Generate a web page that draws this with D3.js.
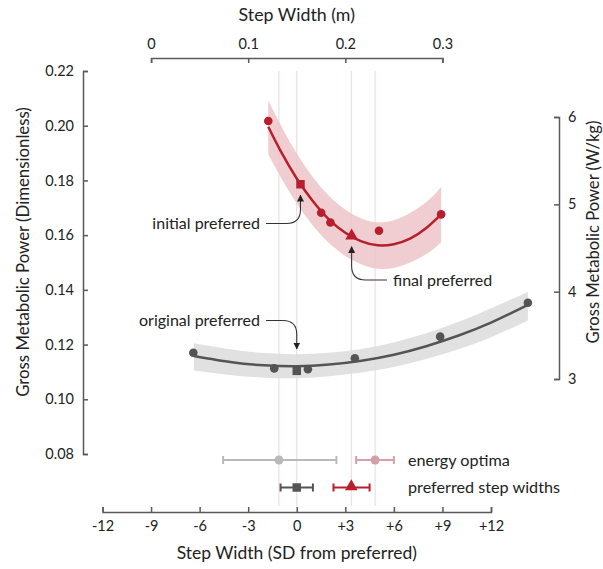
<!DOCTYPE html>
<html>
<head>
<meta charset="utf-8">
<script src="https://cdn.jsdelivr.net/npm/d3@7"></script>
<style>
  html, body { margin: 0; padding: 0; background: #fff; }
  svg { display: block; font-family: Lato, "Open Sans", sans-serif; }
</style>
</head>
<body>
<svg id="chart" width="603" height="569"></svg>
<script>
// ---------------- data ----------------
// x in SD from preferred, y in dimensionless gross metabolic power
const redPointsX = [-1.76, 1.51, 2.08, 5.08, 8.92];
const redPointsY = [0.2017, 0.1682, 0.1646, 0.1616, 0.1676];
const redSquare = [0.23, 0.1786];       // initial preferred
const redTriangle = [3.39, 0.1594];     // final preferred

const redFitX = [-1.76, -1, 0, 1, 2, 3, 4, 5, 6, 7, 8, 8.92];
const redFitY = [0.1996, 0.1908, 0.1807, 0.1724, 0.1657, 0.1609, 0.1577, 0.1563, 0.1567, 0.1587, 0.1626, 0.1676];
const redBandX = [-1.76, 0, 2, 4, 6, 8, 8.92];
const redBandLo = [0.1896, 0.1716, 0.1571, 0.1493, 0.1480, 0.1531, 0.1575];
const redBandHi = [0.2091, 0.1898, 0.1743, 0.1661, 0.1654, 0.1721, 0.1777];

const greyPointsX = [-6.39, -1.39, 0.69, 3.59, 8.86, 14.28];
const greyPointsY = [0.1170, 0.1113, 0.1110, 0.1150, 0.1229, 0.1353];
const greySquare = [0, 0.1104];         // original preferred

const greyFitX = [-6.35, -4, -2, 0, 2, 4, 6, 8, 10, 12, 14.28];
const greyFitY = [0.1158, 0.1135, 0.1124, 0.1121, 0.1127, 0.1141, 0.1163, 0.1194, 0.1233, 0.1280, 0.1345];
const greyBandX = [-6.35, -4, -2, 0, 2, 4, 6, 8, 10, 12, 14.28];
const greyBandLo = [0.1105, 0.1088, 0.1079, 0.1077, 0.1084, 0.1098, 0.1118, 0.1147, 0.1183, 0.1227, 0.1288];
const greyBandHi = [0.1205, 0.1182, 0.1169, 0.1165, 0.1170, 0.1184, 0.1208, 0.1241, 0.1283, 0.1333, 0.1392];

// summary rows: mean, low, high (SD from preferred)
const energyOptima = [[-1.1, -4.55, 2.45], [4.84, 3.67, 6.0]];
const preferredWidths = [[0, -1.0, 1.0], [3.37, 2.27, 4.5]];

const bottomTicks = [-12, -9, -6, -3, 0, 3, 6, 9, 12];
const topTicks = [0, 0.1, 0.2, 0.3];
const leftTicks = [0.08, 0.10, 0.12, 0.14, 0.16, 0.18, 0.20, 0.22];
const rightTicks = [3, 4, 5, 6];

// ---------------- styling ----------------
const RED = "#b71f2e", RED_BAND = "#ecc4c8";
const DARK = "#545454", GREY_BAND = "#dcdcdc";
const LIGHT_GREY = "#b9b9b9", PINK = "#d3a0a7";
const AXIS = "#5a5a5a", TEXT = "#222";
const VLINE = "#ece2e4";

const svg = d3.select("#chart");

const x = d3.scaleLinear().domain([-12, 12]).range([102.5, 491]);
const xm = d3.scaleLinear().domain([0, 0.3]).range([x(-9), x(9)]);
const y = d3.scaleLinear().domain([0.08, 0.22]).range([454, 71]);
const yr = d3.scaleLinear().domain([3, 6]).range([379, 117]);

// vertical reference lines at optima & preferred widths
const vlines = [energyOptima[0][0], 0, preferredWidths[1][0], energyOptima[1][0]];
svg.append("g").selectAll("line").data(vlines).join("line")
  .attr("x1", d => x(d)).attr("x2", d => x(d))
  .attr("y1", y(0.22)).attr("y2", 506)
  .attr("stroke", VLINE).attr("stroke-width", 1.3);

// bands
function band(xs, lo, hi) {
  return d3.area().x((d, i) => x(xs[i])).y0((d, i) => y(lo[i])).y1((d, i) => y(hi[i]))
    .curve(d3.curveNatural)(xs);
}
svg.append("path").attr("d", band(greyBandX, greyBandLo, greyBandHi))
  .attr("fill", GREY_BAND).attr("opacity", 0.85);
svg.append("path").attr("d", band(redBandX, redBandLo, redBandHi))
  .attr("fill", RED_BAND).attr("opacity", 0.85);

// fit lines
function fit(xs, ys) {
  return d3.line().x((d, i) => x(xs[i])).y((d, i) => y(ys[i])).curve(d3.curveNatural)(xs);
}
svg.append("path").attr("d", fit(greyFitX, greyFitY))
  .attr("fill", "none").attr("stroke", DARK).attr("stroke-width", 2.5);
svg.append("path").attr("d", fit(redFitX, redFitY))
  .attr("fill", "none").attr("stroke", RED).attr("stroke-width", 2.5);

// points
svg.append("g").selectAll("circle").data(greyPointsX).join("circle")
  .attr("cx", d => x(d)).attr("cy", (d, i) => y(greyPointsY[i])).attr("r", 4.3)
  .attr("fill", DARK);
svg.append("g").selectAll("circle").data(redPointsX).join("circle")
  .attr("cx", d => x(d)).attr("cy", (d, i) => y(redPointsY[i])).attr("r", 4.3)
  .attr("fill", RED);

const sq = d3.symbol().type(d3.symbolSquare).size(72);
const tri = d3.symbol().type(d3.symbolTriangle).size(70);
svg.append("path").attr("d", sq())
  .attr("transform", `translate(${x(greySquare[0])},${y(greySquare[1])})`).attr("fill", DARK);
svg.append("path").attr("d", sq())
  .attr("transform", `translate(${x(redSquare[0])},${y(redSquare[1])})`).attr("fill", RED);
svg.append("path").attr("d", tri())
  .attr("transform", `translate(${x(redTriangle[0])},${y(redTriangle[1]) - 1})`).attr("fill", RED);

// ---------------- annotations ----------------
svg.append("defs").append("marker")
  .attr("id", "ah").attr("viewBox", "0 0 10 10").attr("refX", 9).attr("refY", 5)
  .attr("markerWidth", 7).attr("markerHeight", 7).attr("orient", "auto-start-reverse")
  .attr("markerUnits", "userSpaceOnUse")
  .append("path").attr("d", "M0,0 L10,5 L0,10 Z").attr("fill", "#222");

function annot(label, anchor, side, tx, ty, tipDy) {
  const px = x(anchor[0]), py = y(anchor[1]);
  const tipY = py + tipDy;
  svg.append("text").attr("x", tx).attr("y", ty).attr("dy", "0.35em")
    .attr("font-size", 16).attr("fill", TEXT)
    .attr("text-anchor", side === "left" ? "end" : "start").text(label);
  const sx = side === "left" ? tx + 6 : tx - 6;
  const dir = tipY < ty ? -1 : 1;
  const d = `M${sx},${ty} L${px + (side === "left" ? -14 : 14)},${ty}` +
    ` Q${px},${ty} ${px},${ty + dir * 14} L${px},${tipY}`;
  svg.append("path").attr("d", d).attr("fill", "none").attr("stroke", "#333")
    .attr("stroke-width", 1.1).attr("marker-end", "url(#ah)");
}
annot("initial preferred", redSquare, "left", 260, 223.5, 11);
annot("final preferred", redTriangle, "right", 393, 280, 10);
annot("original preferred", greySquare, "left", 260, 320.5, -22);

// ---------------- summary error bars ----------------
function errRow(rows, yy, colors, shapes) {
  rows.forEach((r, i) => {
    const g = svg.append("g").attr("stroke", colors[i]).attr("stroke-width", 2);
    g.append("line").attr("x1", x(r[1])).attr("x2", x(r[2])).attr("y1", yy).attr("y2", yy);
    g.append("line").attr("x1", x(r[1])).attr("x2", x(r[1])).attr("y1", yy - 4).attr("y2", yy + 4);
    g.append("line").attr("x1", x(r[2])).attr("x2", x(r[2])).attr("y1", yy - 4).attr("y2", yy + 4);
    const s = shapes[i];
    if (s === "circle") {
      svg.append("circle").attr("cx", x(r[0])).attr("cy", yy).attr("r", 4.5).attr("fill", colors[i]);
    } else if (s === "square") {
      svg.append("path").attr("d", sq()).attr("transform", `translate(${x(r[0])},${yy})`).attr("fill", colors[i]);
    } else {
      svg.append("path").attr("d", tri()).attr("transform", `translate(${x(r[0])},${yy - 1})`).attr("fill", colors[i]);
    }
  });
}
errRow(energyOptima, 460, [LIGHT_GREY, PINK], ["circle", "circle"]);
errRow(preferredWidths, 487.5, [DARK, RED], ["square", "triangle"]);
svg.append("text").attr("x", 408).attr("y", 460).attr("dy", "0.35em")
  .attr("font-size", 16.2).attr("fill", TEXT).text("energy optima");
svg.append("text").attr("x", 408).attr("y", 487.5).attr("dy", "0.35em")
  .attr("font-size", 16.2).attr("fill", TEXT).text("preferred step widths");

// ---------------- axes ----------------
function styleAxis(g) {
  g.selectAll(".domain").attr("stroke", AXIS).attr("stroke-width", 1.5);
  g.selectAll(".tick line").attr("stroke", AXIS).attr("stroke-width", 1.5);
  g.selectAll(".tick text").attr("fill", TEXT).attr("font-size", 14.5)
    .attr("font-family", "Lato, 'Open Sans', sans-serif");
}
const fmtSD = d => d > 0 ? "+" + d : String(d);

const gb = svg.append("g").attr("transform", "translate(0,512)")
  .call(d3.axisBottom(x).tickValues(bottomTicks).tickFormat(fmtSD).tickSizeInner(-5).tickSizeOuter(-5).tickPadding(9));
styleAxis(gb);

const gt = svg.append("g").attr("transform", "translate(0,58)")
  .call(d3.axisTop(xm).tickValues(topTicks).tickFormat(d3.format("~g")).tickSizeInner(-5).tickSizeOuter(-5).tickPadding(9));
styleAxis(gt);

const gl = svg.append("g").attr("transform", "translate(83,0)")
  .call(d3.axisLeft(y).tickValues(leftTicks).tickFormat(d3.format(".2f")).tickSizeInner(-5).tickSizeOuter(-5).tickPadding(9));
styleAxis(gl);

const gr = svg.append("g").attr("transform", "translate(559,0)")
  .call(d3.axisRight(yr).tickValues(rightTicks).tickFormat(d3.format("d")).tickSizeInner(-5).tickSizeOuter(-5).tickPadding(9));
styleAxis(gr);

// axis titles
svg.append("text").attr("x", x(0)).attr("y", 21).attr("text-anchor", "middle")
  .attr("font-size", 17.8).attr("fill", TEXT).text("Step Width (m)");
svg.append("text").attr("x", x(0)).attr("y", 559).attr("text-anchor", "middle")
  .attr("font-size", 17.5).attr("fill", TEXT).text("Step Width (SD from preferred)");
svg.append("text").attr("transform", "translate(29,252) rotate(-90)").attr("text-anchor", "middle")
  .attr("font-size", 16.8).attr("fill", TEXT).text("Gross Metabolic Power (Dimensionless)");
svg.append("text").attr("transform", "translate(599,232) rotate(-90)").attr("text-anchor", "middle")
  .attr("font-size", 16.6).attr("fill", TEXT).text("Gross Metabolic Power (W/kg)");
</script>
</body>
</html>
